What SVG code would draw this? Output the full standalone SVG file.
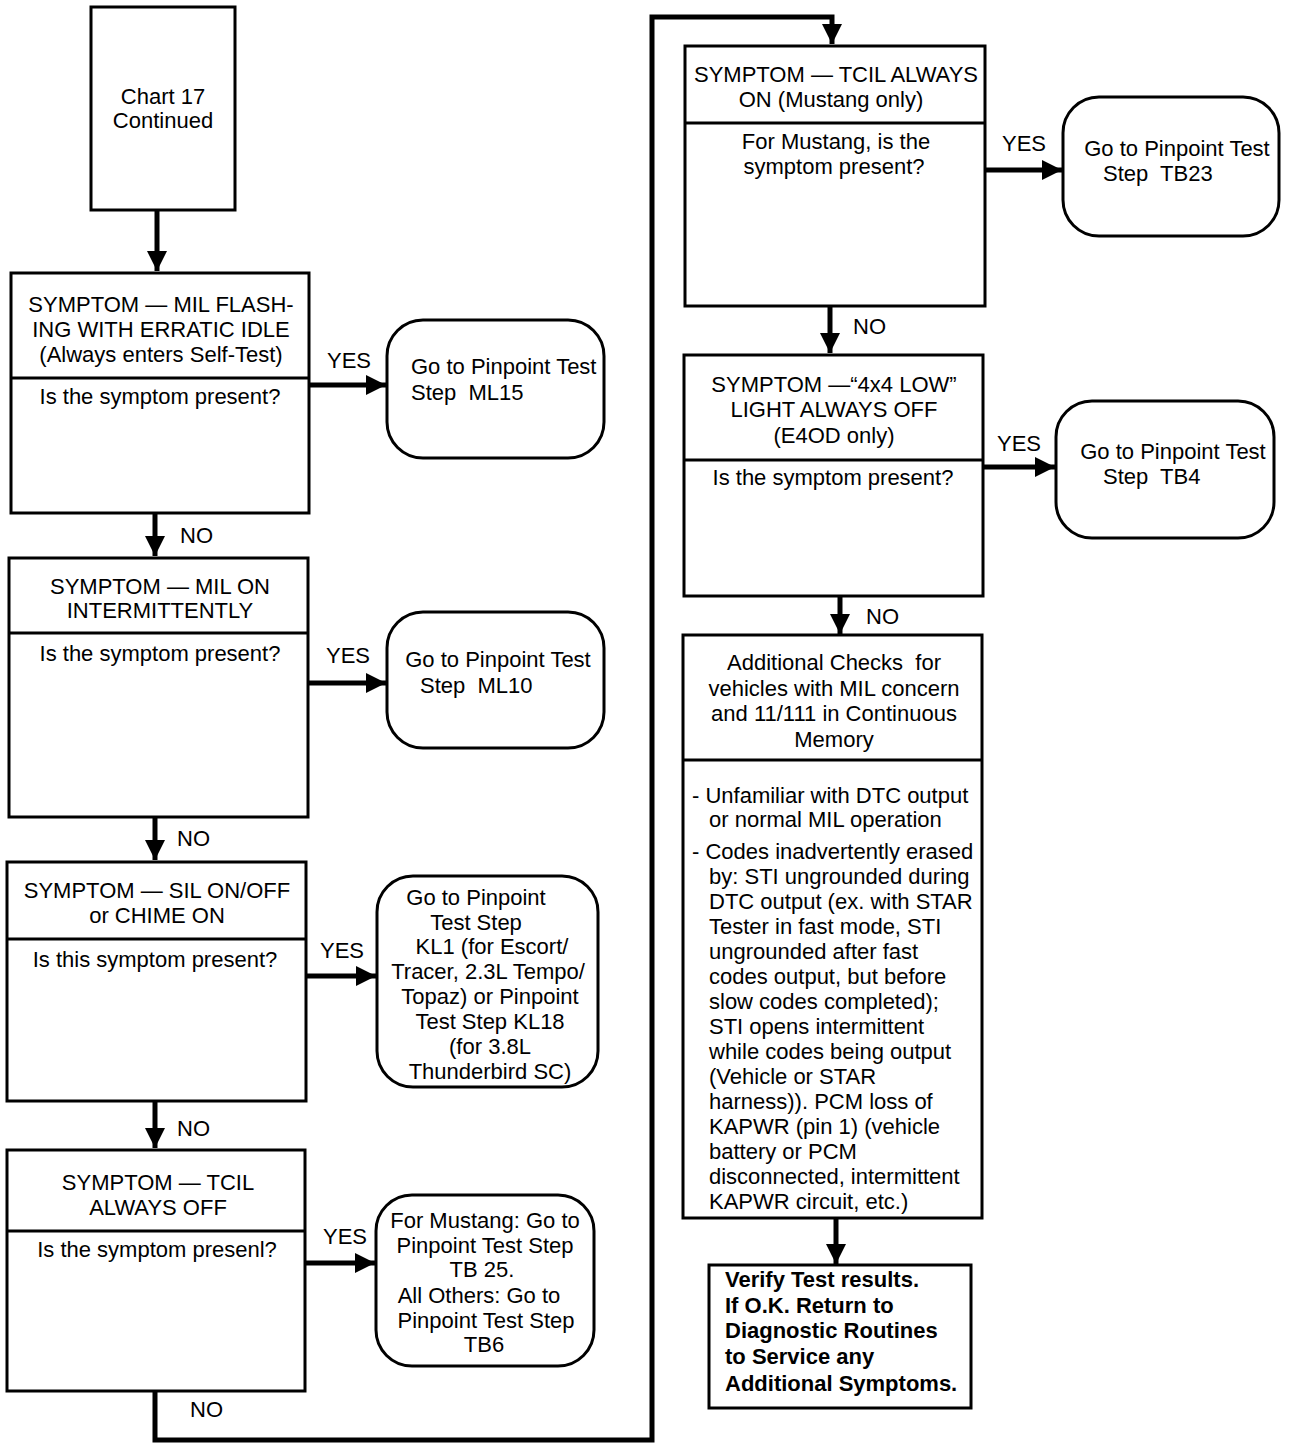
<svg xmlns="http://www.w3.org/2000/svg" width="1296" height="1448" viewBox="0 0 1296 1448">
<defs>
<style>
.box{fill:#fff;stroke:#000;stroke-width:3}
.div{stroke:#000;stroke-width:3}
.t{font-family:"Liberation Sans",Arial,sans-serif;font-size:22px;fill:#000;white-space:pre}
.c{text-anchor:middle}
.b{font-weight:bold}
.con{fill:none;stroke:#000;stroke-width:5}
.lbl{font-family:"Liberation Sans",Arial,sans-serif;font-size:22px;fill:#000}
</style>
<marker id="ah" markerUnits="userSpaceOnUse" markerWidth="20" markerHeight="20" refX="20" refY="10" orient="auto" viewBox="0 0 20 20">
<path d="M0,0 L20,10 L0,20 z" fill="#000"/>
</marker>
</defs>
<rect width="1296" height="1448" fill="#fff"/>

<g id="connectors">
<line class="con" x1="157" y1="210" x2="157" y2="271" marker-end="url(#ah)"/>
<line class="con" x1="309" y1="385" x2="386" y2="385" marker-end="url(#ah)"/>
<line class="con" x1="155" y1="513" x2="155" y2="556" marker-end="url(#ah)"/>
<line class="con" x1="308" y1="683" x2="386" y2="683" marker-end="url(#ah)"/>
<line class="con" x1="155" y1="817" x2="155" y2="860" marker-end="url(#ah)"/>
<line class="con" x1="306" y1="976" x2="376" y2="976" marker-end="url(#ah)"/>
<line class="con" x1="155" y1="1101" x2="155" y2="1148" marker-end="url(#ah)"/>
<line class="con" x1="305" y1="1263" x2="375" y2="1263" marker-end="url(#ah)"/>
<polyline class="con" points="155,1391 155,1440 652,1440 652,17 832,17 832,44" marker-end="url(#ah)"/>
<line class="con" x1="985" y1="170" x2="1062" y2="170" marker-end="url(#ah)"/>
<line class="con" x1="830" y1="306" x2="830" y2="353" marker-end="url(#ah)"/>
<line class="con" x1="983" y1="467" x2="1055" y2="467" marker-end="url(#ah)"/>
<line class="con" x1="840" y1="596" x2="840" y2="634" marker-end="url(#ah)"/>
<line class="con" x1="836" y1="1218" x2="836" y2="1264" marker-end="url(#ah)"/>
<text class="lbl" x="327" y="368">YES</text>
<text class="lbl" x="180" y="543">NO</text>
<text class="lbl" x="326" y="663">YES</text>
<text class="lbl" x="177" y="846">NO</text>
<text class="lbl" x="320" y="958">YES</text>
<text class="lbl" x="177" y="1136">NO</text>
<text class="lbl" x="323" y="1244">YES</text>
<text class="lbl" x="190" y="1417">NO</text>
<text class="lbl" x="1002" y="151">YES</text>
<text class="lbl" x="853" y="334">NO</text>
<text class="lbl" x="997" y="451">YES</text>
<text class="lbl" x="866" y="624">NO</text>
</g>

<g id="start">
<rect class="box" x="91" y="7" width="144" height="203"/>
<text class="t c" x="163" y="104">Chart 17</text>
<text class="t c" x="163" y="128">Continued</text>
</g>

<g id="q1">
<rect class="box" x="11" y="273" width="298" height="240"/>
<line class="div" x1="11" y1="378" x2="309" y2="378"/>
<text class="t c" x="161" y="312">SYMPTOM — MIL FLASH-</text>
<text class="t c" x="161" y="337">ING WITH ERRATIC IDLE</text>
<text class="t c" x="161" y="362">(Always enters Self-Test)</text>
<text class="t c" x="160" y="404">Is the symptom present?</text>
</g>
<g id="r1">
<rect class="box" x="387" y="320" width="217" height="138" rx="36" ry="36"/>
<text class="t" x="411" y="374">Go to Pinpoint Test</text>
<text class="t" x="411" y="400">Step  ML15</text>
</g>

<g id="q2">
<rect class="box" x="9" y="558" width="299" height="259"/>
<line class="div" x1="9" y1="633" x2="308" y2="633"/>
<text class="t c" x="160" y="594">SYMPTOM — MIL ON</text>
<text class="t c" x="160" y="618">INTERMITTENTLY</text>
<text class="t c" x="160" y="661">Is the symptom present?</text>
</g>
<g id="r2">
<rect class="box" x="387" y="612" width="217" height="136" rx="36" ry="36"/>
<text class="t c" x="498" y="667">Go to Pinpoint Test</text>
<text class="t" x="420" y="693">Step  ML10</text>
</g>

<g id="q3">
<rect class="box" x="7" y="862" width="299" height="239"/>
<line class="div" x1="7" y1="939" x2="306" y2="939"/>
<text class="t c" x="157" y="898">SYMPTOM — SIL ON/OFF</text>
<text class="t c" x="157" y="923">or CHIME ON</text>
<text class="t c" x="155" y="967">Is this symptom present?</text>
</g>
<g id="r3">
<rect class="box" x="377" y="876" width="221" height="211" rx="36" ry="36"/>
<text class="t c" x="476" y="905">Go to Pinpoint</text>
<text class="t c" x="476" y="930">Test Step</text>
<text class="t c" x="492" y="954">KL1 (for Escort/</text>
<text class="t c" x="488" y="979">Tracer, 2.3L Tempo/</text>
<text class="t c" x="490" y="1004">Topaz) or Pinpoint</text>
<text class="t c" x="490" y="1029">Test Step KL18</text>
<text class="t c" x="490" y="1054">(for 3.8L</text>
<text class="t c" x="490" y="1079">Thunderbird SC)</text>
</g>

<g id="q4">
<rect class="box" x="7" y="1150" width="298" height="241"/>
<line class="div" x1="7" y1="1231" x2="305" y2="1231"/>
<text class="t c" x="158" y="1190">SYMPTOM — TCIL</text>
<text class="t c" x="158" y="1215">ALWAYS OFF</text>
<text class="t c" x="157" y="1257">Is the symptom presenl?</text>
</g>
<g id="r4">
<rect class="box" x="376" y="1195" width="218" height="171" rx="36" ry="36"/>
<text class="t c" x="485" y="1228">For Mustang: Go to</text>
<text class="t c" x="485" y="1253">Pinpoint Test Step</text>
<text class="t c" x="482" y="1277">TB 25.</text>
<text class="t c" x="479" y="1303">All Others: Go to</text>
<text class="t c" x="486" y="1328">Pinpoint Test Step</text>
<text class="t c" x="484" y="1352">TB6</text>
</g>

<g id="q5">
<rect class="box" x="685" y="46" width="300" height="260"/>
<line class="div" x1="685" y1="123" x2="985" y2="123"/>
<text class="t c" x="836" y="82">SYMPTOM — TCIL ALWAYS</text>
<text class="t c" x="831" y="107">ON (Mustang only)</text>
<text class="t c" x="836" y="149">For Mustang, is the</text>
<text class="t c" x="834" y="174">symptom present?</text>
</g>
<g id="r5">
<rect class="box" x="1063" y="97" width="216" height="139" rx="36" ry="36"/>
<text class="t c" x="1177" y="156">Go to Pinpoint Test</text>
<text class="t" x="1103" y="181">Step  TB23</text>
</g>

<g id="q6">
<rect class="box" x="684" y="355" width="299" height="241"/>
<line class="div" x1="684" y1="460" x2="983" y2="460"/>
<text class="t c" x="834" y="392">SYMPTOM —“4x4 LOW”</text>
<text class="t c" x="834" y="417">LIGHT ALWAYS OFF</text>
<text class="t c" x="834" y="443">(E4OD only)</text>
<text class="t c" x="833" y="485">Is the symptom present?</text>
</g>
<g id="r6">
<rect class="box" x="1056" y="401" width="218" height="137" rx="36" ry="36"/>
<text class="t c" x="1173" y="459">Go to Pinpoint Test</text>
<text class="t" x="1103" y="484">Step  TB4</text>
</g>

<g id="checks">
<rect class="box" x="683" y="635" width="299" height="583"/>
<line class="div" x1="683" y1="760" x2="982" y2="760"/>
<text class="t c" x="834" y="670">Additional Checks  for</text>
<text class="t c" x="834" y="696">vehicles with MIL concern</text>
<text class="t c" x="834" y="721">and 11/111 in Continuous</text>
<text class="t c" x="834" y="747">Memory</text>
<text class="t" x="692" y="803">- Unfamiliar with DTC output</text>
<text class="t" x="709" y="827">or normal MIL operation</text>
<text class="t" x="692" y="859">- Codes inadvertently erased</text>
<text class="t" x="709" y="884">by: STI ungrounded during</text>
<text class="t" x="709" y="909">DTC output (ex. with STAR</text>
<text class="t" x="709" y="934">Tester in fast mode, STI</text>
<text class="t" x="709" y="959">ungrounded after fast</text>
<text class="t" x="709" y="984">codes output, but before</text>
<text class="t" x="709" y="1009">slow codes completed);</text>
<text class="t" x="709" y="1034">STI opens intermittent</text>
<text class="t" x="709" y="1059">while codes being output</text>
<text class="t" x="709" y="1084">(Vehicle or STAR</text>
<text class="t" x="709" y="1109">harness)). PCM loss of</text>
<text class="t" x="709" y="1134">KAPWR (pin 1) (vehicle</text>
<text class="t" x="709" y="1159">battery or PCM</text>
<text class="t" x="709" y="1184">disconnected, intermittent</text>
<text class="t" x="709" y="1209">KAPWR circuit, etc.)</text>
</g>

<g id="verify">
<rect class="box" x="709" y="1265" width="262" height="143"/>
<text class="t b" x="725" y="1287">Verify Test results.</text>
<text class="t b" x="725" y="1313">If O.K. Return to</text>
<text class="t b" x="725" y="1338">Diagnostic Routines</text>
<text class="t b" x="725" y="1364">to Service any</text>
<text class="t b" x="725" y="1391">Additional Symptoms.</text>
</g>
</svg>
